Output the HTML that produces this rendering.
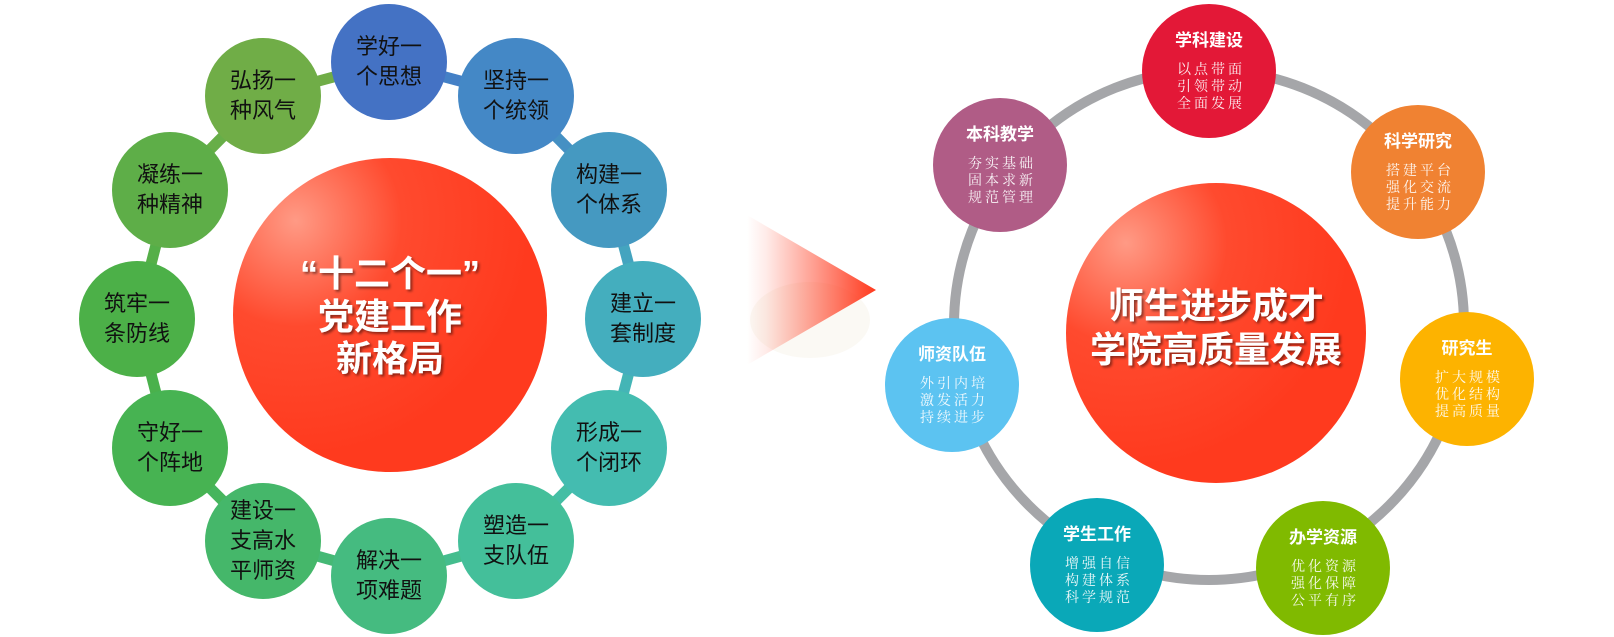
<!DOCTYPE html>
<html><head><meta charset="utf-8">
<style>
html,body{margin:0;padding:0;background:#fff;}
svg{display:block;}
.n{font-family:"Liberation Sans","Noto Sans CJK SC",sans-serif;font-size:22px;fill:#111;}
.c{font-family:"Liberation Sans","Noto Sans CJK SC",sans-serif;font-weight:bold;fill:#fff;}
.t{font-family:"Liberation Sans","Noto Sans CJK SC",sans-serif;font-weight:bold;font-size:17px;fill:#fff;}
.s{font-family:"Liberation Serif","Noto Serif CJK SC",serif;font-size:14px;fill:#fff;opacity:.92;letter-spacing:3px;}
</style></head><body>
<svg width="1614" height="637" viewBox="0 0 1614 637" xmlns="http://www.w3.org/2000/svg">
<defs>
<radialGradient id="rg" cx="0.2" cy="0.2" r="0.75">
<stop offset="0" stop-color="#ff9a85"/><stop offset="0.45" stop-color="#ff4a2e"/><stop offset="1" stop-color="#ff3a1e"/>
</radialGradient>
<linearGradient id="ag" x1="747" y1="0" x2="876" y2="0" gradientUnits="userSpaceOnUse">
<stop offset="0" stop-color="#ff3a1e" stop-opacity="0"/><stop offset="0.15" stop-color="#ff3a1e" stop-opacity="0.1"/><stop offset="1" stop-color="#ff3a1e" stop-opacity="1"/>
</linearGradient>
<filter id="sh"><feDropShadow dx="2" dy="2" stdDeviation="1.2" flood-color="#000" flood-opacity="0.45"/></filter>
</defs>

<g stroke-width="11">
<line x1="389" y1="62" x2="516" y2="96" stroke="#4480c6"/>
<line x1="516" y1="96" x2="609" y2="190" stroke="#4590c3"/>
<line x1="609" y1="190" x2="643" y2="319" stroke="#44a4bf"/>
<line x1="643" y1="319" x2="609" y2="448" stroke="#44b5b6"/>
<line x1="609" y1="448" x2="516" y2="541" stroke="#44bea4"/>
<line x1="516" y1="541" x2="389" y2="576" stroke="#44bd8d"/>
<line x1="389" y1="576" x2="263" y2="541" stroke="#45b975"/>
<line x1="263" y1="541" x2="170" y2="448" stroke="#46b55d"/>
<line x1="170" y1="448" x2="137" y2="319" stroke="#4ab14c"/>
<line x1="137" y1="319" x2="170" y2="190" stroke="#55af48"/>
<line x1="170" y1="190" x2="263" y2="96" stroke="#67ae48"/>
<line x1="263" y1="96" x2="389" y2="62" stroke="#70ad47"/>
</g>
<g>
<circle cx="389" cy="62" r="58" fill="#4472c4"/>
<circle cx="516" cy="96" r="58" fill="#4488c6"/>
<circle cx="609" cy="190" r="58" fill="#4599c1"/>
<circle cx="643" cy="319" r="58" fill="#44aebe"/>
<circle cx="609" cy="448" r="58" fill="#44bcb0"/>
<circle cx="516" cy="541" r="58" fill="#44bf9a"/>
<circle cx="389" cy="576" r="58" fill="#45bb80"/>
<circle cx="263" cy="541" r="58" fill="#45b76a"/>
<circle cx="170" cy="448" r="58" fill="#47b352"/>
<circle cx="137" cy="319" r="58" fill="#4cb048"/>
<circle cx="170" cy="190" r="58" fill="#5eae48"/>
<circle cx="263" cy="96" r="58" fill="#70ad47"/>
</g>
<g class="n" text-anchor="middle">
<text x="389" y="54">学好一</text><text x="389" y="84">个思想</text>
<text x="516" y="88">坚持一</text><text x="516" y="118">个统领</text>
<text x="609" y="182">构建一</text><text x="609" y="212">个体系</text>
<text x="643" y="311">建立一</text><text x="643" y="341">套制度</text>
<text x="609" y="440">形成一</text><text x="609" y="470">个闭环</text>
<text x="516" y="533">塑造一</text><text x="516" y="563">支队伍</text>
<text x="389" y="568">解决一</text><text x="389" y="598">项难题</text>
<text x="263" y="518">建设一</text><text x="263" y="548">支高水</text><text x="263" y="578">平师资</text>
<text x="170" y="440">守好一</text><text x="170" y="470">个阵地</text>
<text x="137" y="311">筑牢一</text><text x="137" y="341">条防线</text>
<text x="170" y="182">凝练一</text><text x="170" y="212">种精神</text>
<text x="263" y="88">弘扬一</text><text x="263" y="118">种风气</text>
</g>
<circle cx="390" cy="315" r="157" fill="url(#rg)"/>
<g class="c" text-anchor="middle" font-size="36" filter="url(#sh)">
<text x="390" y="286">“十二个一”</text>
<text x="390" y="329">党建工作</text>
<text x="390" y="371">新格局</text>
</g>

<ellipse cx="810" cy="320" rx="60" ry="38" fill="#f7f3ea" opacity="0.5"/>
<polygon points="747,215 876,290 747,365" fill="url(#ag)"/>

<circle cx="1209" cy="325" r="255" fill="none" stroke="#a5a6a9" stroke-width="10"/>
<circle cx="1216" cy="333" r="150" fill="url(#rg)"/>
<g class="c" text-anchor="middle" font-size="36" filter="url(#sh)">
<text x="1216" y="318">师生进步成才</text>
<text x="1216" y="362">学院高质量发展</text>
</g>
<g>
<circle cx="1209" cy="71" r="67" fill="#e31837"/>
<circle cx="1418" cy="172" r="67" fill="#f08232"/>
<circle cx="1467" cy="379" r="67" fill="#fdb300"/>
<circle cx="1323" cy="568" r="67" fill="#80ba00"/>
<circle cx="1097" cy="565" r="67" fill="#0aa8b8"/>
<circle cx="952" cy="385" r="67" fill="#5cc3f1"/>
<circle cx="1000" cy="165" r="67" fill="#b05c86"/>
</g>
<g text-anchor="middle">
<text class="t" x="1209" y="46">学科建设</text>
<text class="s" x="1211" y="74">以点带面</text><text class="s" x="1211" y="91">引领带动</text><text class="s" x="1211" y="108">全面发展</text>

<text class="t" x="1418" y="147">科学研究</text>
<text class="s" x="1420" y="175">搭建平台</text><text class="s" x="1420" y="192">强化交流</text><text class="s" x="1420" y="209">提升能力</text>

<text class="t" x="1467" y="354">研究生</text>
<text class="s" x="1469" y="382">扩大规模</text><text class="s" x="1469" y="399">优化结构</text><text class="s" x="1469" y="416">提高质量</text>

<text class="t" x="1323" y="543">办学资源</text>
<text class="s" x="1325" y="571">优化资源</text><text class="s" x="1325" y="588">强化保障</text><text class="s" x="1325" y="605">公平有序</text>

<text class="t" x="1097" y="540">学生工作</text>
<text class="s" x="1099" y="568">增强自信</text><text class="s" x="1099" y="585">构建体系</text><text class="s" x="1099" y="602">科学规范</text>

<text class="t" x="952" y="360">师资队伍</text>
<text class="s" x="954" y="388">外引内培</text><text class="s" x="954" y="405">激发活力</text><text class="s" x="954" y="422">持续进步</text>

<text class="t" x="1000" y="140">本科教学</text>
<text class="s" x="1002" y="168">夯实基础</text><text class="s" x="1002" y="185">固本求新</text><text class="s" x="1002" y="202">规范管理</text>
</g>
</svg>
</body></html>
